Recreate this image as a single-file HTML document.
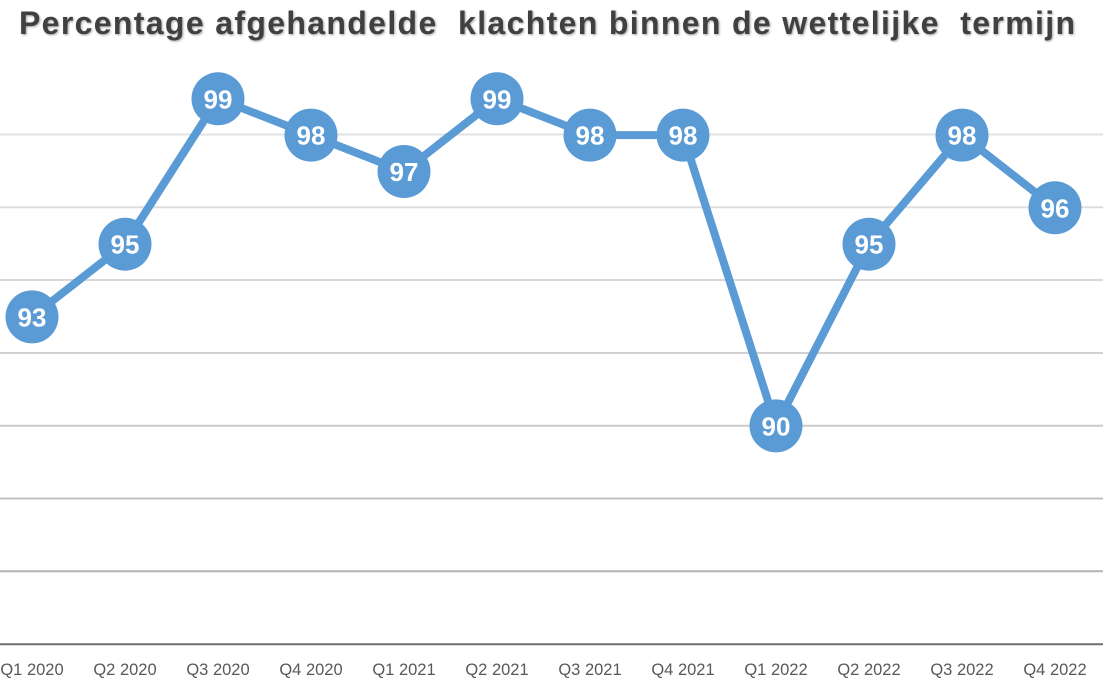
<!DOCTYPE html>
<html>
<head>
<meta charset="utf-8">
<style>
  html, body { margin: 0; padding: 0; background: #ffffff; }
  svg { display: block; }
</style>
</head>
<body>
<svg width="1103" height="682" viewBox="0 0 1103 682" xmlns="http://www.w3.org/2000/svg">
  <defs>
    <filter id="sh" x="-5%" y="-30%" width="110%" height="160%">
      <feGaussianBlur in="SourceAlpha" stdDeviation="1"/>
      <feOffset dx="1" dy="1" result="b"/>
      <feFlood flood-color="#000" flood-opacity="0.35"/>
      <feComposite in2="b" operator="in"/>
      <feMerge><feMergeNode/><feMergeNode in="SourceGraphic"/></feMerge>
    </filter>
  </defs>
  <rect width="1103" height="682" fill="#ffffff"/>

  <!-- title -->
  <text x="19" y="34" font-family="Liberation Sans, Arial, sans-serif" font-weight="bold" font-size="32" fill="#404040" textLength="1056" lengthAdjust="spacing" style="white-space:pre" filter="url(#sh)">Percentage afgehandelde  klachten binnen de wettelijke  termijn</text>

  <!-- gridlines -->
  <g stroke-width="2">
    <line x1="0" x2="1103" y1="134.5" y2="134.5" stroke="#e2e2e2"/>
    <line x1="0" x2="1103" y1="207.3" y2="207.3" stroke="#dedede"/>
    <line x1="0" x2="1103" y1="280" y2="280" stroke="#d9d9d9"/>
    <line x1="0" x2="1103" y1="353" y2="353" stroke="#d2d2d2"/>
    <line x1="0" x2="1103" y1="425.8" y2="425.8" stroke="#cbcbcb"/>
    <line x1="0" x2="1103" y1="498.5" y2="498.5" stroke="#c0c0c0"/>
    <line x1="0" x2="1103" y1="571.3" y2="571.3" stroke="#b2b2b2"/>
    <line x1="0" x2="1103" y1="644.3" y2="644.3" stroke="#6e6e6e"/>
  </g>

  <!-- series line -->
  <polyline fill="none" stroke="#5B9BD5" stroke-width="8" stroke-linejoin="round"
    points="32,316.9 125,244.2 218,98.8 311,135.1 404,171.5 497,98.8 590,135.1 683,135.1 776,425.9 869,244.2 962,135.1 1055,207.8"/>

  <!-- markers -->
  <g fill="#5B9BD5">
    <circle cx="32" cy="316.9" r="26.5"/>
    <circle cx="125" cy="244.2" r="26.5"/>
    <circle cx="218" cy="98.8" r="26.5"/>
    <circle cx="311" cy="135.1" r="26.5"/>
    <circle cx="404" cy="171.5" r="26.5"/>
    <circle cx="497" cy="98.8" r="26.5"/>
    <circle cx="590" cy="135.1" r="26.5"/>
    <circle cx="683" cy="135.1" r="26.5"/>
    <circle cx="776" cy="425.9" r="26.5"/>
    <circle cx="869" cy="244.2" r="26.5"/>
    <circle cx="962" cy="135.1" r="26.5"/>
    <circle cx="1055" cy="207.8" r="26.5"/>
  </g>

  <!-- data labels -->
  <g font-family="Liberation Sans, Arial, sans-serif" font-weight="bold" font-size="26" fill="#ffffff" text-anchor="middle">
    <text x="32" y="326.4">93</text>
    <text x="125" y="253.7">95</text>
    <text x="218" y="108.3">99</text>
    <text x="311" y="144.6">98</text>
    <text x="404" y="181">97</text>
    <text x="497" y="108.3">99</text>
    <text x="590" y="144.6">98</text>
    <text x="683" y="144.6">98</text>
    <text x="776" y="435.4">90</text>
    <text x="869" y="253.7">95</text>
    <text x="962" y="144.6">98</text>
    <text x="1055" y="217.3">96</text>
  </g>

  <!-- axis labels -->
  <g font-family="Liberation Sans, Arial, sans-serif" font-size="16.5" fill="#595959" text-anchor="middle">
    <text x="32" y="675">Q1 2020</text>
    <text x="125" y="675">Q2 2020</text>
    <text x="218" y="675">Q3 2020</text>
    <text x="311" y="675">Q4 2020</text>
    <text x="404" y="675">Q1 2021</text>
    <text x="497" y="675">Q2 2021</text>
    <text x="590" y="675">Q3 2021</text>
    <text x="683" y="675">Q4 2021</text>
    <text x="776" y="675">Q1 2022</text>
    <text x="869" y="675">Q2 2022</text>
    <text x="962" y="675">Q3 2022</text>
    <text x="1055" y="675">Q4 2022</text>
  </g>
</svg>
</body>
</html>
